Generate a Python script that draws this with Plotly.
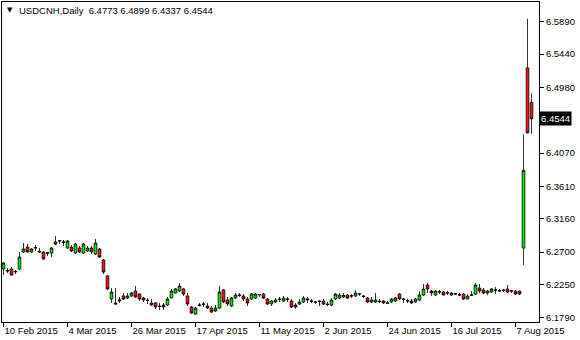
import plotly.graph_objects as go
import pandas as pd

# ---- data ----
dates = pd.bdate_range("2015-02-10", "2015-08-13").strftime("%Y-%m-%d").tolist()

opens = [6.2465, 6.2444, 6.2465, 6.2423, 6.2465, 6.2700, 6.2769, 6.2700, 6.2755, 6.2714,
         6.2700, 6.2680, 6.2686, 6.2811, 6.2852, 6.2839, 6.2755, 6.2769, 6.2686, 6.2755,
         6.2686, 6.2714, 6.2755, 6.2672, 6.2742, 6.2589, 6.2368, 6.2049, 6.1994, 6.2021,
         6.2091, 6.2063, 6.2091, 6.2160, 6.2118, 6.2063, 6.2035, 6.1994, 6.1994, 6.1952,
         6.1966, 6.1966, 6.2063, 6.2132, 6.2160, 6.2188, 6.2091, 6.1938, 6.1841, 6.1959,
         6.1973, 6.1952, 6.1924, 6.1883, 6.1924, 6.2174, 6.2035, 6.1952, 6.2063, 6.2098,
         6.2091, 6.2049, 6.2049, 6.2063, 6.2104, 6.2118, 6.2049, 6.1980, 6.2008, 6.2049,
         6.2021, 6.2042, 6.2021, 6.1966, 6.1980, 6.2008, 6.2035, 6.2015, 6.2001, 6.2021,
         6.2021, 6.1980, 6.1966, 6.2049, 6.2063, 6.2077, 6.2104, 6.2094, 6.2091, 6.2118,
         6.2091, 6.2063, 6.2008, 6.2008, 6.2021, 6.2021, 6.1990, 6.2008, 6.2021, 6.2118,
         6.2049, 6.2028, 6.2021, 6.2008, 6.2035, 6.2104, 6.2243, 6.2160, 6.2104, 6.2146,
         6.2146, 6.2135, 6.2132, 6.2121, 6.2108, 6.2118, 6.2049, 6.2101, 6.2118, 6.2201,
         6.2174, 6.2132, 6.2146, 6.2170, 6.2167, 6.2174, 6.2188, 6.2163, 6.2160, 6.2160,
         6.2755, 6.5250, 6.4773]
highs = [6.2562, 6.2478, 6.2492, 6.2451, 6.2700, 6.2825, 6.2811, 6.2755, 6.2797, 6.2755,
         6.2714, 6.2700, 6.2769, 6.2922, 6.2866, 6.2866, 6.2866, 6.2797, 6.2825, 6.2783,
         6.2825, 6.2783, 6.2783, 6.2880, 6.2755, 6.2603, 6.2381, 6.2201, 6.2201, 6.2077,
         6.2132, 6.2132, 6.2146, 6.2229, 6.2132, 6.2077, 6.2063, 6.2049, 6.2008, 6.1994,
         6.1994, 6.2077, 6.2188, 6.2201, 6.2271, 6.2201, 6.2132, 6.1952, 6.1938, 6.1994,
         6.2008, 6.1994, 6.1952, 6.1966, 6.2229, 6.2188, 6.2077, 6.2077, 6.2132, 6.2132,
         6.2118, 6.2077, 6.2132, 6.2132, 6.2118, 6.2132, 6.2063, 6.2035, 6.2063, 6.2077,
         6.2091, 6.2077, 6.2049, 6.1994, 6.2049, 6.2091, 6.2077, 6.2049, 6.2021, 6.2035,
         6.2049, 6.2008, 6.2063, 6.2132, 6.2132, 6.2132, 6.2118, 6.2118, 6.2174, 6.2132,
         6.2104, 6.2077, 6.2077, 6.2132, 6.2049, 6.2035, 6.2021, 6.2063, 6.2077, 6.2132,
         6.2063, 6.2049, 6.2049, 6.2063, 6.2160, 6.2257, 6.2271, 6.2174, 6.2174, 6.2174,
         6.2160, 6.2160, 6.2146, 6.2132, 6.2132, 6.2132, 6.2118, 6.2160, 6.2271, 6.2257,
         6.2201, 6.2174, 6.2201, 6.2215, 6.2188, 6.2188, 6.2243, 6.2174, 6.2174, 6.2165,
         6.4330, 6.5930, 6.4899]
lows = [6.2381, 6.2409, 6.2374, 6.2395, 6.2451, 6.2686, 6.2695, 6.2690, 6.2714, 6.2686,
        6.2589, 6.2645, 6.2631, 6.2797, 6.2811, 6.2783, 6.2742, 6.2700, 6.2672, 6.2686,
        6.2672, 6.2700, 6.2672, 6.2658, 6.2617, 6.2395, 6.2174, 6.1994, 6.1975, 6.1994,
        6.2035, 6.2049, 6.2077, 6.2063, 6.2021, 6.2008, 6.1980, 6.1952, 6.1911, 6.1897,
        6.1897, 6.1952, 6.2063, 6.2125, 6.2146, 6.2091, 6.1952, 6.1841, 6.1827, 6.1945,
        6.1938, 6.1911, 6.1855, 6.1869, 6.1911, 6.1994, 6.1952, 6.1938, 6.2049, 6.2077,
        6.2021, 6.1952, 6.2035, 6.2049, 6.2077, 6.2049, 6.1966, 6.1952, 6.1994, 6.2008,
        6.2008, 6.2008, 6.1924, 6.1911, 6.1966, 6.1994, 6.1994, 6.1994, 6.1980, 6.1952,
        6.1966, 6.1952, 6.1952, 6.2035, 6.2049, 6.2063, 6.2049, 6.2063, 6.2077, 6.2091,
        6.2063, 6.1994, 6.1994, 6.1994, 6.1994, 6.1980, 6.1980, 6.1994, 6.2008, 6.2035,
        6.1994, 6.1994, 6.1980, 6.1994, 6.2021, 6.2091, 6.2132, 6.2091, 6.2091, 6.2118,
        6.2100, 6.2104, 6.2091, 6.2104, 6.2091, 6.2035, 6.2045, 6.2091, 6.2104, 6.2132,
        6.2118, 6.2104, 6.2132, 6.2118, 6.2146, 6.2146, 6.2132, 6.2132, 6.2104, 6.2104,
        6.2516, 6.4340, 6.4337]
closes = [6.2548, 6.2437, 6.2381, 6.2430, 6.2631, 6.2742, 6.2700, 6.2742, 6.2760, 6.2700,
          6.2603, 6.2690, 6.2755, 6.2839, 6.2855, 6.2835, 6.2852, 6.2714, 6.2811, 6.2700,
          6.2811, 6.2755, 6.2700, 6.2825, 6.2631, 6.2423, 6.2188, 6.2146, 6.1980, 6.2035,
          6.2049, 6.2091, 6.2132, 6.2077, 6.2049, 6.2035, 6.2028, 6.1966, 6.1938, 6.1945,
          6.1938, 6.2049, 6.2160, 6.2188, 6.2229, 6.2118, 6.1980, 6.1855, 6.1924, 6.1966,
          6.1980, 6.1924, 6.1869, 6.1924, 6.2146, 6.2008, 6.1980, 6.2063, 6.2104, 6.2104,
          6.2049, 6.1994, 6.2118, 6.2118, 6.2111, 6.2063, 6.1980, 6.2021, 6.2035, 6.2045,
          6.2063, 6.2049, 6.1938, 6.1938, 6.2008, 6.2063, 6.2049, 6.2021, 6.2008, 6.2015,
          6.1980, 6.1973, 6.2035, 6.2118, 6.2104, 6.2098, 6.2063, 6.2091, 6.2132, 6.2121,
          6.2084, 6.2008, 6.2035, 6.2035, 6.2015, 6.1994, 6.1994, 6.2049, 6.2063, 6.2049,
          6.2045, 6.2021, 6.1994, 6.2049, 6.2104, 6.2188, 6.2188, 6.2132, 6.2160, 6.2150,
          6.2104, 6.2132, 6.2104, 6.2118, 6.2104, 6.2049, 6.2091, 6.2104, 6.2243, 6.2160,
          6.2132, 6.2160, 6.2188, 6.2174, 6.2160, 6.2170, 6.2146, 6.2160, 6.2118, 6.2118,
          6.3830, 6.4350, 6.4544]

tick_dates = ["2015-02-10", "2015-03-04", "2015-03-26", "2015-04-17", "2015-05-11",
              "2015-06-02", "2015-06-24", "2015-07-16", "2015-08-07"]
tick_labels = ["10 Feb 2015", "4 Mar 2015", "26 Mar 2015", "17 Apr 2015", "11 May 2015",
               "2 Jun 2015", "24 Jun 2015", "16 Jul 2015", "7 Aug 2015"]
price_ticks = [6.1790, 6.2250, 6.2700, 6.3160, 6.3610, 6.4070, 6.4980, 6.5440, 6.5890]
last_price = 6.4544
header = "USDCNH,Daily  6.4773 6.4899 6.4337 6.4544"

FONT = "Liberation Sans"

fig = go.Figure(go.Candlestick(
    x=dates, open=opens, high=highs, low=lows, close=closes,
    increasing=dict(line=dict(color="black", width=0.8), fillcolor="#00f000"),
    decreasing=dict(line=dict(color="black", width=0.8), fillcolor="#ff1010"),
    whiskerwidth=0, hoverinfo="skip", showlegend=False,
))

fig.update_layout(
    width=580, height=340,
    margin=dict(l=2, r=41, t=2, b=18),
    paper_bgcolor="white", plot_bgcolor="white",
    font=dict(family=FONT, size=9.5, color="black"),
    showlegend=False,
    boxgap=0.05,
    xaxis=dict(
        type="category", range=[-0.375, 133.875],
        rangeslider=dict(visible=False),
        tickmode="array", tickvals=tick_dates, ticktext=tick_labels,
        ticks="outside", ticklen=4, tickcolor="black", tickwidth=1,
        ticklabelposition="outside right",
        showgrid=False, zeroline=False,
        showline=True, linecolor="black", linewidth=1, mirror=True,
        tickfont=dict(family=FONT, size=9.5, color="black"),
    ),
    yaxis=dict(
        side="right", range=[6.17305, 6.61625],
        tickmode="array", tickvals=price_ticks, tickformat=".4f",
        ticks="outside", ticklen=4, tickcolor="black", tickwidth=1,
        showgrid=False, zeroline=False,
        showline=True, linecolor="black", linewidth=1, mirror=True,
        tickfont=dict(family=FONT, size=9.5, color="black"),
    ),
)

fig.add_annotation(xref="paper", yref="y", x=1, y=last_price, xanchor="left", yanchor="middle",
                   text=f"{last_price:.4f}", showarrow=False, bgcolor="black",
                   font=dict(family=FONT, size=9.5, color="white"), borderpad=1,
                   xshift=0)
fig.add_annotation(xref="paper", yref="paper", x=0.0065, y=0.974, xanchor="left", yanchor="middle",
                   text="▼", showarrow=False, font=dict(family="DejaVu Sans", size=7, color="black"))
fig.add_annotation(xref="paper", yref="paper", x=0.028, y=0.975, xanchor="left", yanchor="middle",
                   text=header, showarrow=False, font=dict(family=FONT, size=9.5, color="black"))

fig.write_html("out.html")
